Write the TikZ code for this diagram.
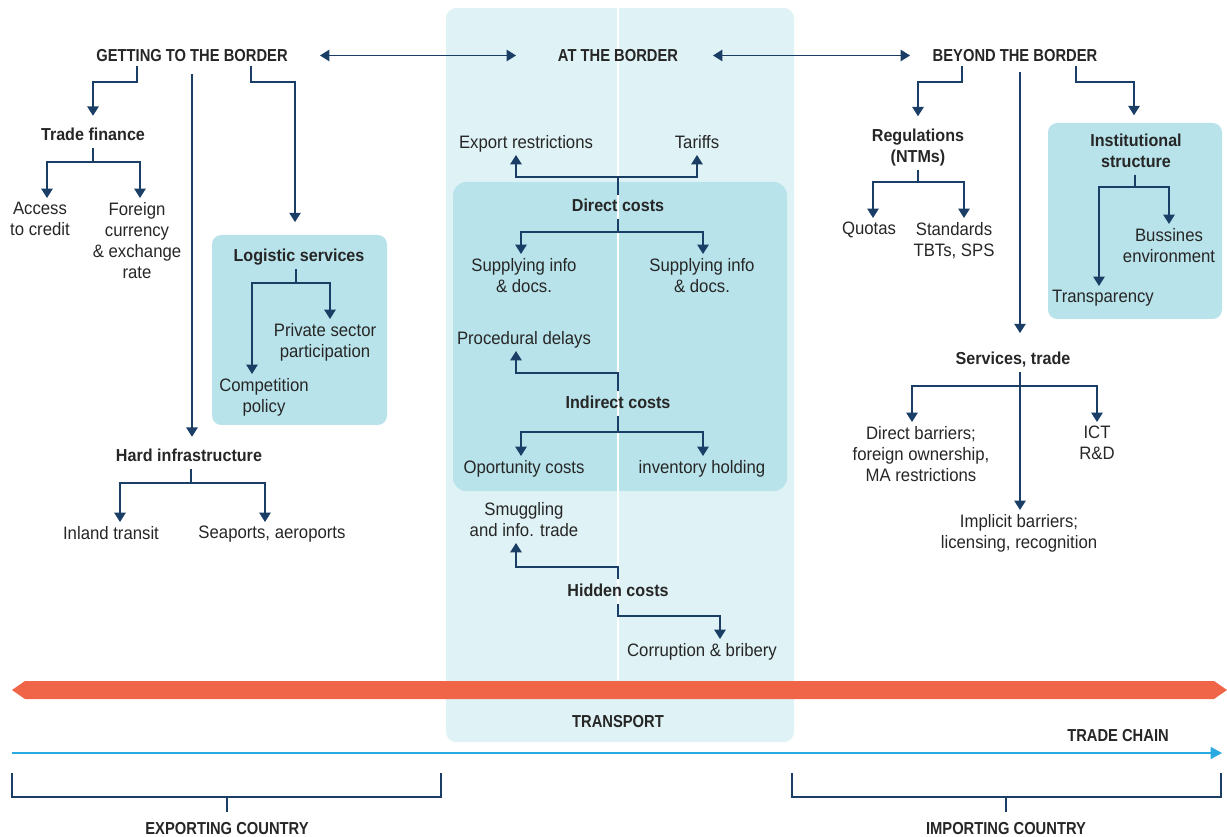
\documentclass[tikz,border=0pt]{standalone}
\usepackage{fontspec}
\setmainfont{Liberation Sans}[FakeStretch=0.93]
\newfontfamily\headfont{Liberation Sans}[FakeStretch=0.85]
\usetikzlibrary{arrows.meta,positioning}
\definecolor{ink}{RGB}{38,38,38}
\definecolor{navy}{RGB}{27,62,102}
\definecolor{paleblue}{RGB}{223,242,245}
\definecolor{softblue}{RGB}{184,227,234}
\definecolor{flame}{RGB}{240,101,72}
\definecolor{sky}{RGB}{41,171,226}
\tikzset{
  head/.style    = {font=\headfont\bfseries\fontsize{13}{15}\selectfont,
                    text=ink, text depth=0pt, inner sep=3pt},
  hub/.style     = {font=\bfseries\fontsize{13}{15.75}\selectfont,
                    align=center, text=ink, text depth=.25em, inner sep=3pt},
  leaf/.style    = {font=\fontsize{13.5}{15.75}\selectfont,
                    align=center, text=ink, text depth=.2em, inner sep=3pt},
  link/.style    = {draw=navy, line width=1.2pt,
                    -{Triangle[width=8.5pt,length=7pt]}},
  twoway/.style  = {link,
                    {Triangle[width=8.5pt,length=7pt]}-{Triangle[width=8.5pt,length=7pt]}},
  tohub/.style   = {shorten >=#1},
  tohub/.default = 6pt,
  bracket/.style = {draw=navy, line width=0.9pt},
  panel/.style   = {fill=softblue, rounded corners=7pt}
}
\begin{document}
\begin{tikzpicture}[x=0.75pt, y=-0.75pt]
  \useasboundingbox (0,0) rectangle (1227,837);
  % backgrounds
  \fill[paleblue, rounded corners=7.5pt] (446,8) rectangle (794,742);
  \fill[panel, rounded corners=10pt] (453,182) rectangle (787,491);
  \fill[panel] (212,235) rectangle (387,425);
  \fill[panel] (1048,123) rectangle (1222,319);
  \draw[white, line width=1.4pt] (618,8) -- (618,680);
  \fill[flame] (12,690) -- (25,681) -- (1214,681) -- (1227,690)
    -- (1214,699) -- (25,699) -- cycle;

  % the three stages
  \node[head] (gtb) at (192,55.5) {GETTING TO THE BORDER};
  \node[head] (atb) at (618,55.5) {AT THE BORDER};
  \node[head] (btb) at (1015,55.5) {BEYOND THE BORDER};
  \draw[twoway] (gtb.east -| 320,0) -- (atb.west -| 516,0);
  \draw[twoway] (atb.east -| 713,0) -- (btb.west -| 910,0);

  % getting to the border
  \node[hub] (fin) at (93,136) {Trade finance};
  \node[leaf, anchor=north] (acc) at (40,198) {Access\\to credit};
  \node[leaf, anchor=north] (cur) at (137,198) {Foreign\\currency\\\& exchange\\rate};
  \node[hub] (logi) at (299,257) {Logistic services};
  \node[leaf, anchor=north] (priv) at (325,319) {Private sector\\participation};
  \node[leaf, anchor=north] (comp) at (264,374) {Competition\\policy};
  \node[hub] (hard) at (189,457) {Hard infrastructure};
  \node[leaf, anchor=north] (inl) at (111,522) {Inland transit};
  \node[leaf, anchor=north] (sea) at (272,522) {Seaports, aeroports};

  \draw[link, tohub] (137,0 |- gtb.south) -- ++(0,16) -| (fin.north);
  \draw[link, tohub] ([yshift=-6pt]gtb.south) -- (gtb.south |- hard.north);
  \draw[link, tohub=17pt] (251,0 |- gtb.south) -- ++(0,16) -| (295,0 |- logi.north);
  \draw[link] (fin.south) -- ++(0,14) -| (47,0 |- acc.north);
  \draw[link] (fin.south) -- ++(0,14) -| (140,0 |- cur.north);
  \draw[link] (296,0 |- logi.south) -- ++(0,14) -| (330,0 |- priv.north);
  \draw[link] (296,0 |- logi.south) -- ++(0,14) -| (252,0 |- comp.north);
  \draw[link] (191,0 |- hard.south) -- ++(0,14) -| (120,0 |- inl.north);
  \draw[link] (191,0 |- hard.south) -- ++(0,14) -| (265,0 |- sea.north);

  % at the border
  \node[hub] (dc) at (618,207) {Direct costs};
  \node[leaf, anchor=south] (exr) at (526,155) {Export restrictions};
  \node[leaf, anchor=south] (tar) at (697,155) {Tariffs};
  \node[leaf, anchor=north] (sup1) at (524,254) {Supplying info\\\& docs.};
  \node[leaf, anchor=north] (sup2) at (702,254) {Supplying info\\\& docs.};
  \node[hub] (ic) at (618,403.5) {Indirect costs};
  \node[leaf, anchor=south] (proc) at (524,351) {Procedural delays};
  \node[leaf, anchor=north] (opo) at (524,456) {Oportunity costs};
  \node[leaf, anchor=north] (inv) at (702,456) {inventory holding};
  \node[hub] (hc) at (618,591.5) {Hidden costs};
  \node[leaf, anchor=south] (smu) at (524,543) {Smuggling\\and info. trade};
  \node[leaf, anchor=north] (cor) at (702,639) {Corruption \& bribery};

  \draw[link] (dc.north) -- ++(0,-18) -| (516,0 |- exr.south);
  \draw[link] (dc.north) -- ++(0,-18) -| (tar.south);
  \draw[link] (dc.south) -- ++(0,13) -| (521,0 |- sup1.north);
  \draw[link] (dc.south) -- ++(0,13) -| (703,0 |- sup2.north);
  \draw[link] (ic.north) -- ++(0,-18) -| (516,0 |- proc.south);
  \draw[link] (ic.south) -- ++(0,16) -| (521,0 |- opo.north);
  \draw[link] (ic.south) -- ++(0,16) -| (703,0 |- inv.north);
  \draw[link] (hc.north) -- ++(0,-12) -| (516,0 |- smu.south);
  \draw[link] (hc.south) -- ++(0,12) -| (720,0 |- cor.north);

  % beyond the border
  \node[hub] (reg) at (918,147) {Regulations\\(NTMs)};
  \node[leaf, anchor=north] (quo) at (869,218) {Quotas};
  \node[leaf, anchor=north] (std) at (954,218) {Standards\\TBTs, SPS};
  \node[hub] (ins) at (1136,152) {Institutional\\structure};
  \node[leaf, anchor=north] (bus) at (1169,224) {Bussines\\environment};
  \node[leaf, anchor=north] (tra) at (1103,286) {Transparency};
  \node[hub] (svc) at (1013,360) {Services, trade};
  \node[leaf, anchor=north] (dir) at (921,422) {Direct barriers;\\foreign ownership,\\MA restrictions};
  \node[leaf, anchor=north] (ict) at (1097,422) {ICT\\R\&D};
  \node[leaf, anchor=north] (imp) at (1019,510) {Implicit barriers;\\licensing, recognition};

  \draw[link, tohub] (962,0 |- btb.south) -- ++(0,16) -| (918,0 |- reg.north);
  \draw[link, tohub=11pt] (1020,0 |- btb.south) ++(0,6) -- (1020,0 |- svc.north);
  \draw[link, tohub=10.5pt] (1076,0 |- btb.south) -- ++(0,16) -| (1134,0 |- ins.north);
  \draw[link] (reg.south) -- ++(0,12) -| (873,0 |- quo.north);
  \draw[link] (reg.south) -- ++(0,12) -| (964,0 |- std.north);
  \draw[link] (1135,0 |- ins.south) -- ++(0,12) -| (bus.north);
  \draw[link] (1135,0 |- ins.south) -- ++(0,12) -| (1099,0 |- tra.north);
  \draw[link] (1020,0 |- svc.south) -- ++(0,14) -| (912,0 |- dir.north);
  \draw[link] (1020,0 |- svc.south) -- ++(0,14) -| (ict.north);
  \draw[link] (1020,0 |- svc.south) -- (1020,0 |- imp.north);

  % transport and trade chain
  \node[head] (trp) at (618,721.5) {TRANSPORT};
  \node[head] (chain) at (1118,735.5) {TRADE CHAIN};
  \coordinate (origin) at (12,753);
  \coordinate (goal) at (1222,753);
  \draw[sky, line width=1.1pt, -{Triangle[width=9pt,length=8.5pt]}] (origin) -- (goal);
  \draw[bracket] (12,773) |- (441,797) -- (441,773) (227,797) -- (227,812);
  \draw[bracket] (792,773) |- (1221,797) -- (1221,773) (1006,797) -- (1006,812);
  \node[head] (expc) at (227,828) {EXPORTING COUNTRY};
  \node[head] (impc) at (1006,828) {IMPORTING COUNTRY};
\end{tikzpicture}
\end{document}
